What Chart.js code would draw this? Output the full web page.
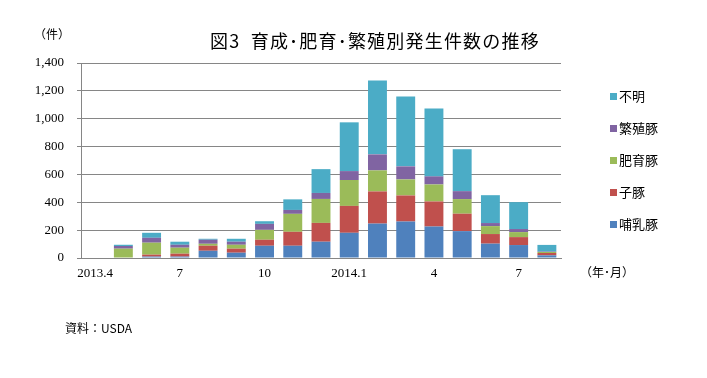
<!DOCTYPE html>
<html>
<head>
<meta charset="utf-8">
<script src="https://cdn.jsdelivr.net/npm/chart.js@4/dist/chart.umd.min.js"></script>
<style>
  html, body { margin: 0; padding: 0; background: #fff; }
  #wrap { position: relative; width: 707px; height: 378px; overflow: hidden; background: #fff; }
  #c { position: absolute; left: 0; top: 0; }
  .t { position: absolute; white-space: nowrap; color: #000; font-family: "Noto Sans CJK JP", sans-serif; }
  #title { left: 0; width: 750px; text-align: center; top: 27px; font-size: 18px; letter-spacing: 1.2px; }
  #unit { left: 34px; top: 25px; font-size: 12px; }
  #xunit { left: 580px; top: 263px; font-size: 12px; }
  #src { left: 65px; top: 319px; font-size: 12px; }
  #legend { position: absolute; left: 610px; top: 86px; }
  .li { position: relative; height: 32px; width: 80px; white-space: nowrap; font-family: "Noto Sans CJK JP", sans-serif; font-size: 13px; line-height: 20px; }
  .li span.box { position: absolute; left: 0; top: 7px; width: 7px; height: 7px; }
  .li span.lab { position: absolute; left: 9px; top: 0; white-space: nowrap; }
</style>
</head>
<body>
<div id="wrap">
  <canvas id="c" width="707" height="378"></canvas>
  <div class="t" id="title">図3&ensp;育成･肥育･繁殖別発生件数の推移</div>
  <div class="t" id="unit">（件）</div>
  <div class="t" id="xunit">（年･月）</div>
  <div class="t" id="src">資料：USDA</div>
  <div id="legend"></div>
</div>
<script>
// Categories (month)
const categories = ['2013.4','5','6','7','8','9','10','11','12','2014.1','2','3','4','5','6','7','8'];
const shownLabels = ['2013.4','7','10','2014.1','4','7'];
const shownIndex = [0, 3, 6, 9, 12, 15];

// Series (cases)
const suckling  = [0, 0, 10, 10, 52, 38, 88, 88, 117, 181, 247, 262, 226, 193, 103, 93, 19];   // 哺乳豚
const piglet    = [0, 0, 14, 21, 36, 29, 43, 100, 135, 193, 231, 187, 180, 125, 69, 57, 17];  // 子豚
const fattening = [0, 67, 86, 43, 14, 28, 71, 129, 172, 186, 151, 115, 122, 105, 57, 36, 7];  // 肥育豚
const breeding  = [0, 19, 35, 21, 29, 22, 43, 28, 43, 64, 115, 94, 58, 57, 22, 22, 3];        // 繁殖豚
const unknown   = [0, 9, 36, 22, 7, 21, 19, 76, 171, 350, 530, 501, 487, 301, 200, 193, 48];  // 不明

const seriesNames = ['哺乳豚', '子豚', '肥育豚', '繁殖豚', '不明'];
const seriesData = [suckling, piglet, fattening, breeding, unknown];
const seriesColors = ['#4F81BD', '#C0504D', '#9BBB59', '#8064A2', '#4BACC6'];

const yTicks = [0, 200, 400, 600, 800, 1000, 1200, 1400];

const datasets = seriesNames.map((n, i) => ({
  label: n,
  data: seriesData[i],
  backgroundColor: seriesColors[i],
  borderWidth: 0,
  barPercentage: 0.67,
  categoryPercentage: 1.0
}));

// HTML legend (reverse order like the reference)
const lg = document.getElementById('legend');
for (let i = seriesNames.length - 1; i >= 0; i--) {
  const d = document.createElement('div');
  d.className = 'li';
  d.innerHTML = '<span class="box" style="background:' + seriesColors[i] + '"></span><span class="lab">' + seriesNames[i] + '</span>';
  lg.appendChild(d);
}

const gridColor = '#868686';
new Chart(document.getElementById('c'), {
  type: 'bar',
  data: { labels: categories, datasets: datasets },
  options: {
    responsive: false,
    devicePixelRatio: 1,
    animation: false,
    layout: { padding: { left: 0, top: 63, right: 146, bottom: 0 } },
    plugins: { legend: { display: false }, tooltip: { enabled: false }, title: { display: false } },
    scales: {
      x: {
        stacked: true,
        grid: { display: false, drawTicks: false },
        border: { display: true, color: gridColor, width: 1 },
        ticks: {
          autoSkip: false, maxRotation: 0, minRotation: 0, padding: 8,
          color: '#000',
          font: { family: '"Liberation Serif", serif', size: 13 },
          callback: function(v, idx) {
            const k = shownIndex.indexOf(idx);
            return k >= 0 ? shownLabels[k] : '';
          }
        },
        afterFit: function(s) { s.height = 120; }
      },
      y: {
        stacked: true,
        min: 0, max: 1400,
        afterBuildTicks: function(s) { s.ticks = yTicks.map(v => ({ value: v })); },
        grid: { color: gridColor, lineWidth: 1, drawTicks: true, tickLength: 4, tickColor: gridColor },
        border: { display: true, color: gridColor, width: 1 },
        ticks: {
          padding: 13,
          color: '#000',
          font: { family: '"Liberation Serif", serif', size: 13 },
          callback: function(v) { return v.toLocaleString('en-US'); }
        },
        afterFit: function(s) { s.width = 81; }
      }
    }
  }
});
</script>
</body>
</html>
